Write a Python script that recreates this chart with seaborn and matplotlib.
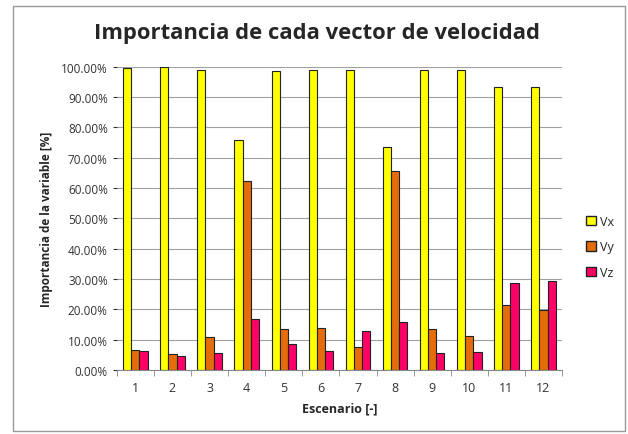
import pandas as pd
import matplotlib.pyplot as plt
import matplotlib.patches as mpatches
from matplotlib.ticker import FuncFormatter
import seaborn as sns

# =========================
# DATA
# =========================

escenarios = ['1', '2', '3', '4', '5', '6', '7', '8', '9', '10', '11', '12']
vx = [99.5, 99.8, 99.0, 76.0, 98.6, 98.8, 98.8, 73.5, 98.8, 99.0, 93.2, 93.4]
vy = [6.5, 5.3, 11.0, 62.5, 13.7, 13.8, 7.5, 65.5, 13.7, 11.2, 21.5, 19.8]
vz = [6.3, 4.5, 5.7, 16.9, 8.7, 6.4, 12.8, 16.0, 5.5, 6.0, 28.8, 29.4]
series = ['Vx', 'Vy', 'Vz']
colors = ['#FFFF00', '#E46C0A', '#FF0066']

df = pd.DataFrame({'Escenario': escenarios, 'Vx': vx, 'Vy': vy, 'Vz': vz})
long = df.melt(id_vars='Escenario', var_name='Variable', value_name='Valor')

# =========================
# PLOT
# =========================

sns.set_style('white')
plt.rcParams['font.family'] = ['Open Sans', 'DejaVu Sans']

fig = plt.figure(figsize=(6.28, 4.35), dpi=100)
ax = fig.add_axes([0.186, 0.147, 0.709, 0.697])

sns.barplot(data=long, x='Escenario', y='Valor', hue='Variable',
            hue_order=series, palette=colors, saturation=1, width=0.66, gap=0,
            edgecolor='#222222', linewidth=0.8, ax=ax, legend=False)

ax.set_ylim(0, 100)
ax.set_yticks(range(0, 101, 10))
ax.yaxis.set_major_formatter(FuncFormatter(lambda v, p: f"{v:.2f}%"))
ax.grid(axis='y', color='#a0a0a0', linewidth=0.8)
ax.set_axisbelow(True)
ax.set_xlim(-0.5, 11.5)

for s in ['top', 'right']:
    ax.spines[s].set_visible(False)
ax.spines['left'].set_visible(False)
ax.spines['bottom'].set_color('#888888')

ax.tick_params(axis='y', labelsize=8.5, colors='#333333', length=3, left=True)
ax.tick_params(axis='x', labelsize=9, colors='#333333', length=0, pad=8)
ax.set_xticks([i - 0.5 for i in range(13)], minor=True)
ax.tick_params(axis='x', which='minor', length=4, color='#888888', bottom=True)

ax.set_xlabel('Escenario [-]', fontsize=9, fontweight='bold', labelpad=5)
ax.set_ylabel('Importancia de la variable [%]', fontsize=8.5, fontweight='bold', labelpad=6)

fig.text(0.505, 0.922, 'Importancia de cada vector de velocidad',
         ha='center', va='center', fontsize=15.8, fontweight='bold')

handles = [mpatches.Patch(facecolor=c, edgecolor='#222222', label=s)
           for c, s in zip(colors, series)]
fig.legend(handles=handles, loc='center left', bbox_to_anchor=(0.915, 0.43),
           frameon=False, fontsize=9, handlelength=0.8, handleheight=0.8,
           handletextpad=0.3, labelspacing=1.0)

# outer chart border
fig.patches.append(mpatches.Rectangle((0.021, 0.006), 0.974, 0.978,
                                      transform=fig.transFigure, fill=False,
                                      edgecolor='#9a9a9a', linewidth=1.0))

plt.savefig('out.png', dpi=100)
